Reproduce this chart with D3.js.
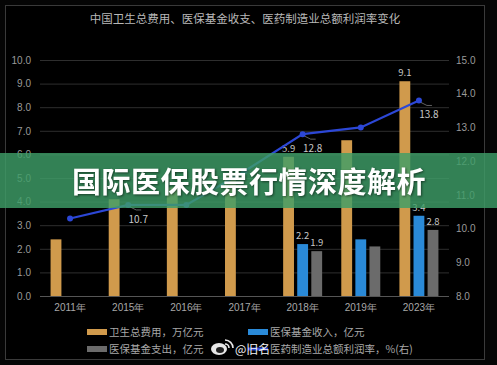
<!DOCTYPE html>
<html>
<head>
<meta charset="utf-8">
<script src="https://cdn.jsdelivr.net/npm/d3@7"></script>
<style>
  html, body { margin: 0; padding: 0; background: #050505; }
  svg { display: block; font-family: "Noto Sans CJK SC", "Noto Sans", sans-serif; }
</style>
</head>
<body>
<div id="container"></div>
<script>
/* data */
var years = ['2011年', '2015年', '2016年', '2017年', '2018年', '2019年', '2023年'];
var healthSpend = [2.4, 4.1, 4.6, 5.2, 5.9, 6.6, 9.1];      // 卫生总费用
var fundIncome = [null, null, null, null, 2.2, 2.4, 3.4];     // 医保基金收入
var fundSpend = [null, null, null, null, 1.9, 2.1, 2.8];      // 医保基金支出
var profitRate = [10.3, 10.7, 10.7, 11.7, 12.8, 13.0, 13.8];  // 利润率 (右)
var leftTicks = [0, 1, 2, 3, 4, 5, 6, 7, 8, 9, 10];
var rightTicks = [8, 9, 10, 11, 12, 13, 14, 15];
var barLabels = {health: ['2018年', '2023年'], income: ['2018年', '2023年'], spend: ['2018年', '2023年']};
var lineLabels = ['2015年', '2018年', '2023年'];

var w = 497, h = 365;
var margin = {top: 60, right: 49, bottom: 69, left: 41};
var plotW = w - margin.left - margin.right,
	plotH = h - margin.top - margin.bottom;

var svg = d3.select('#container').append('svg')
	.attr('width', w)
	.attr('height', h);

/* frame */
svg.append('rect')
	.attr('width', w).attr('height', h)
	.attr('fill', '#050505');
svg.append('rect')
	.attr('x', 5.5).attr('y', 5.5)
	.attr('width', 479).attr('height', 354)
	.attr('fill', '#000')
	.attr('stroke', '#3a3a3a');

svg.append('text')
	.attr('x', 245).attr('y', 23)
	.attr('text-anchor', 'middle')
	.attr('fill', '#b8b8b8')
	.style('font-size', '11.5px')
	.text('中国卫生总费用、医保基金收支、医药制造业总额利润率变化');

var g = svg.append('g')
	.attr('transform', 'translate(' + margin.left + ',' + margin.top + ')');

/* scales */
var xScale = d3.scaleBand().domain(years).range([0, plotW]);
var subScale = d3.scaleBand().domain(['health', 'income', 'spend'])
	.range([xScale.bandwidth() / 2 - 19.5, xScale.bandwidth() / 2 + 19.5])
	.paddingInner(0.23);
var yLeft = d3.scaleLinear().domain([0, 10]).range([plotH, 0]);
var yRight = d3.scaleLinear().domain([8, 15]).range([plotH, 0]);

/* grid */
g.append('g').selectAll('line')
	.data(leftTicks)
	.join('line')
	.attr('x1', -1).attr('x2', plotW + 1)
	.attr('y1', d => yLeft(d) + 0.5).attr('y2', d => yLeft(d) + 0.5)
	.attr('stroke', d => d === 0 ? '#555' : '#2e2e2e');

/* axes */
var leftAxis = d3.axisLeft(yLeft).tickValues(leftTicks).tickFormat(d3.format('.1f')).tickSize(0).tickPadding(10);
var rightAxis = d3.axisRight(yRight).tickValues(rightTicks).tickFormat(d3.format('.1f')).tickSize(0).tickPadding(8);
var xAxis = d3.axisBottom(xScale).tickSize(0).tickPadding(8);

g.append('g').call(leftAxis)
	.call(s => s.select('.domain').remove())
	.selectAll('text').attr('fill', '#9a9a9a').style('font-size', '10px');
g.append('g').attr('transform', 'translate(' + plotW + ',0)').call(rightAxis)
	.call(s => s.select('.domain').remove())
	.selectAll('text').attr('fill', '#9a9a9a').style('font-size', '10px');
g.append('g').attr('transform', 'translate(0,' + plotH + ')').call(xAxis)
	.call(s => s.select('.domain').remove())
	.selectAll('text').attr('fill', '#a8a8a8').style('font-size', '10px');

/* bars */
var series = [
	{key: 'health', values: healthSpend, color: '#d09a4c'},
	{key: 'income', values: fundIncome, color: '#2a8ad8'},
	{key: 'spend', values: fundSpend, color: '#6b6b6b'}
];

series.forEach(function(s) {
	var data = years.map((y, i) => ({year: y, v: s.values[i]})).filter(d => d.v != null);
	g.append('g').selectAll('rect')
		.data(data)
		.join('rect')
		.attr('x', d => xScale(d.year) + subScale(s.key))
		.attr('y', d => yLeft(d.v))
		.attr('width', subScale.bandwidth())
		.attr('height', d => plotH - yLeft(d.v))
		.attr('fill', s.color);
	g.append('g').selectAll('text')
		.data(data.filter(d => barLabels[s.key].indexOf(d.year) >= 0))
		.join('text')
		.attr('x', d => xScale(d.year) + subScale(s.key) + subScale.bandwidth() / 2)
		.attr('y', d => yLeft(d.v) - 5)
		.attr('text-anchor', 'middle')
		.attr('fill', '#c8c8c8')
		.style('font-size', '9.5px')
		.text(d => d3.format('.1f')(d.v));
});

/* profit line */
var lineData = years.map((y, i) => ({year: y, v: profitRate[i]}));
var line = d3.line()
	.x(d => xScale(d.year) + xScale.bandwidth() / 2)
	.y(d => yRight(d.v));

g.append('path')
	.datum(lineData)
	.attr('d', line)
	.attr('fill', 'none')
	.attr('stroke', '#2c47d6')
	.attr('stroke-width', 2.2);

g.append('g').selectAll('circle')
	.data(lineData)
	.join('circle')
	.attr('cx', d => xScale(d.year) + xScale.bandwidth() / 2)
	.attr('cy', d => yRight(d.v))
	.attr('r', 3)
	.attr('fill', '#2c47d6');

// labels with small leader lines
var lbl = g.append('g').selectAll('g')
	.data(lineData.filter(d => lineLabels.indexOf(d.year) >= 0))
	.join('g')
	.attr('transform', d => 'translate(' + (xScale(d.year) + xScale.bandwidth() / 2) + ',' + yRight(d.v) + ')');
lbl.append('polyline')
	.attr('points', '2,2 8,5 13,5')
	.attr('fill', 'none')
	.attr('stroke', '#888')
	.attr('stroke-width', 0.7);
lbl.append('text')
	.attr('x', 10).attr('y', 18)
	.attr('text-anchor', 'middle')
	.attr('fill', '#c8c8c8')
	.style('font-size', '10px')
	.text(d => d3.format('.1f')(d.v));

/* legend */
var legendItems = [
	{name: '卫生总费用，万亿元', color: '#d09a4c', type: 'bar', x: 87, y: 332},
	{name: '医保基金收入，亿元', color: '#2a8ad8', type: 'bar', x: 248, y: 332},
	{name: '医保基金支出，亿元', color: '#6b6b6b', type: 'bar', x: 87, y: 349},
	{name: '医药制造业总额利润率，%(右)', color: '#2c47d6', type: 'line', x: 248, y: 349}
];
var leg = svg.append('g').selectAll('g')
	.data(legendItems)
	.join('g')
	.attr('transform', d => 'translate(' + d.x + ',' + d.y + ')');
leg.append('rect')
	.attr('x', 0).attr('y', d => d.type === 'bar' ? -3 : -1.5)
	.attr('width', 20).attr('height', d => d.type === 'bar' ? 6 : 3)
	.attr('fill', d => d.color);
leg.append('text')
	.attr('x', 22).attr('y', 4)
	.attr('fill', '#a8a8a8')
	.style('font-size', '10.5px')
	.text(d => d.name);

/* watermark */
var wm = svg.append('g').attr('transform', 'translate(219,349)');
wm.append('ellipse').attr('rx', 8).attr('ry', 6).attr('fill', '#e8e8e8');
wm.append('ellipse').attr('cx', 1).attr('cy', 1).attr('rx', 4).attr('ry', 3).attr('fill', '#222');
wm.append('path').attr('d', 'M6,-9 A8,8 0 0,1 14,-1 M6,-5 A4,4 0 0,1 10,-1')
	.attr('fill', 'none').attr('stroke', '#e8e8e8').attr('stroke-width', 1.6);
wm.append('text')
	.attr('x', 16).attr('y', 5)
	.attr('fill', '#f2f2f2')
	.style('font-size', '12px')
	.text('@旧名');

/* banner */
svg.append('rect')
	.attr('x', 0).attr('y', 153)
	.attr('width', w).attr('height', 55)
	.attr('fill', 'rgba(62,158,104,0.82)');
svg.append('text')
	.attr('x', 249).attr('y', 193)
	.attr('text-anchor', 'middle')
	.attr('fill', '#ffffff')
	.style('font-size', '29px')
	.style('font-weight', 'bold')
	.style('letter-spacing', '0.5px')
	.style('filter', 'drop-shadow(1px 1px 1px rgba(0,0,0,0.5))')
	.text('国际医保股票行情深度解析');
</script>
</body>
</html>
